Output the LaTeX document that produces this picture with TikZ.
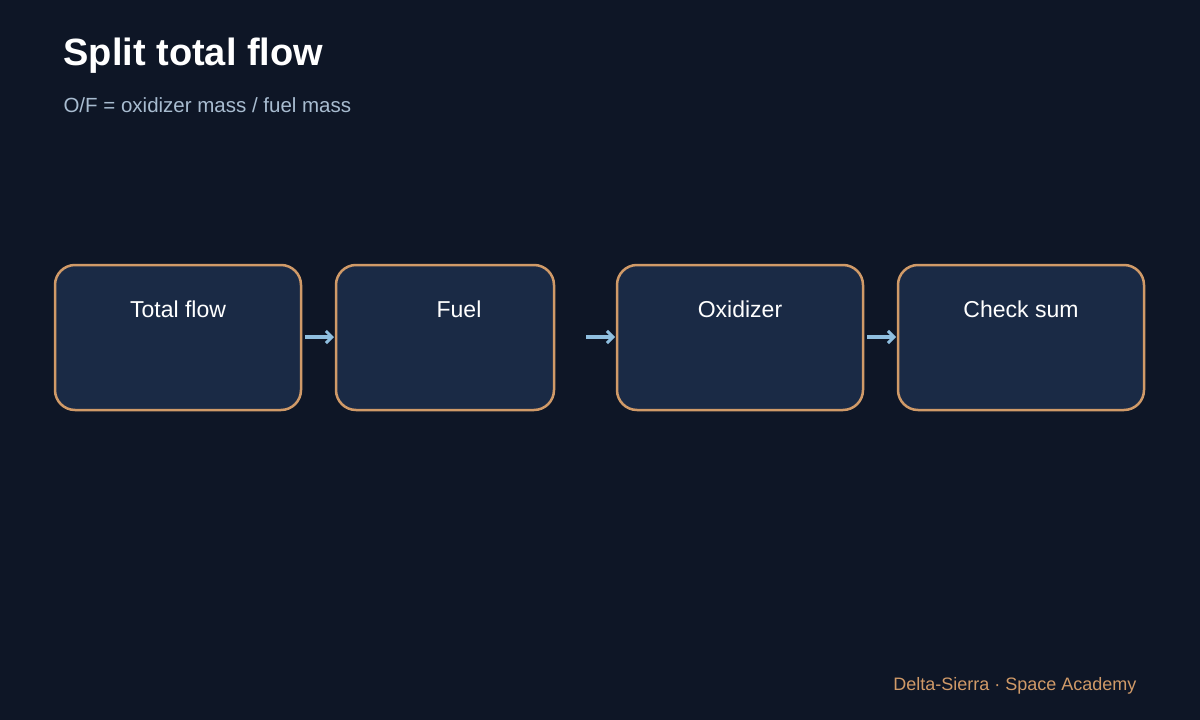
\documentclass[tikz,border=0pt]{standalone}
\usepackage{fontspec}
\setmainfont{Liberation Sans}
\usetikzlibrary{arrows.meta}
\definecolor{bg}{HTML}{0E1626}
\definecolor{boxfill}{HTML}{1A2A45}
\definecolor{boxedge}{HTML}{D09A68}
\definecolor{arr}{HTML}{8FBFE0}
\definecolor{sub}{HTML}{A8BCD0}
\definecolor{foot}{HTML}{D09A68}
\begin{document}
\begin{tikzpicture}[x=1pt,y=-1pt,
  box/.style={draw=boxedge,line width=2.5pt,fill=boxfill,rounded corners=20pt},
  lbl/.style={text=white,font=\fontsize{23}{26}\selectfont,anchor=base},
  con/.style={draw=arr,line width=4pt,-{Straight Barb[length=6pt,width=12pt,line width=3pt]}}]
\useasboundingbox[fill=bg] (0,0) rectangle (1200,720);
\node[anchor=base west,text=white,font=\bfseries\fontsize{38}{44}\selectfont] (title) at (60,65) {Split total flow};
\node[anchor=base west,text=sub,font=\fontsize{20.5}{24}\selectfont] (subt) at (60,112) {O/F = oxidizer mass / fuel mass};
\draw[box] (55,265) rectangle (301,410);
\draw[box] (336,265) rectangle (554,410);
\draw[box] (617,265) rectangle (863,410);
\draw[box] (898,265) rectangle (1144,410);
\coordinate (b1r) at (305,337); \coordinate (b2l) at (334,337);
\coordinate (b2r) at (586,337); \coordinate (b3l) at (615,337);
\coordinate (b3r) at (867,337); \coordinate (b4l) at (896,337);
\node[lbl] (l1) at (178,317) {Total flow};
\node[lbl] (l2) at (459,317) {Fuel};
\node[lbl] (l3) at (740,317) {Oxidizer};
\node[lbl] (l4) at (1021,317) {Check sum};
\draw[con] (b1r) -- (b2l);
\draw[con] (b2r) -- (b3l);
\draw[con] (b3r) -- (b4l);
\node[anchor=base east,text=foot,font=\fontsize{18}{22}\selectfont] (footer) at (1140,690) {Delta-Sierra · Space Academy};
\end{tikzpicture}
\end{document}
